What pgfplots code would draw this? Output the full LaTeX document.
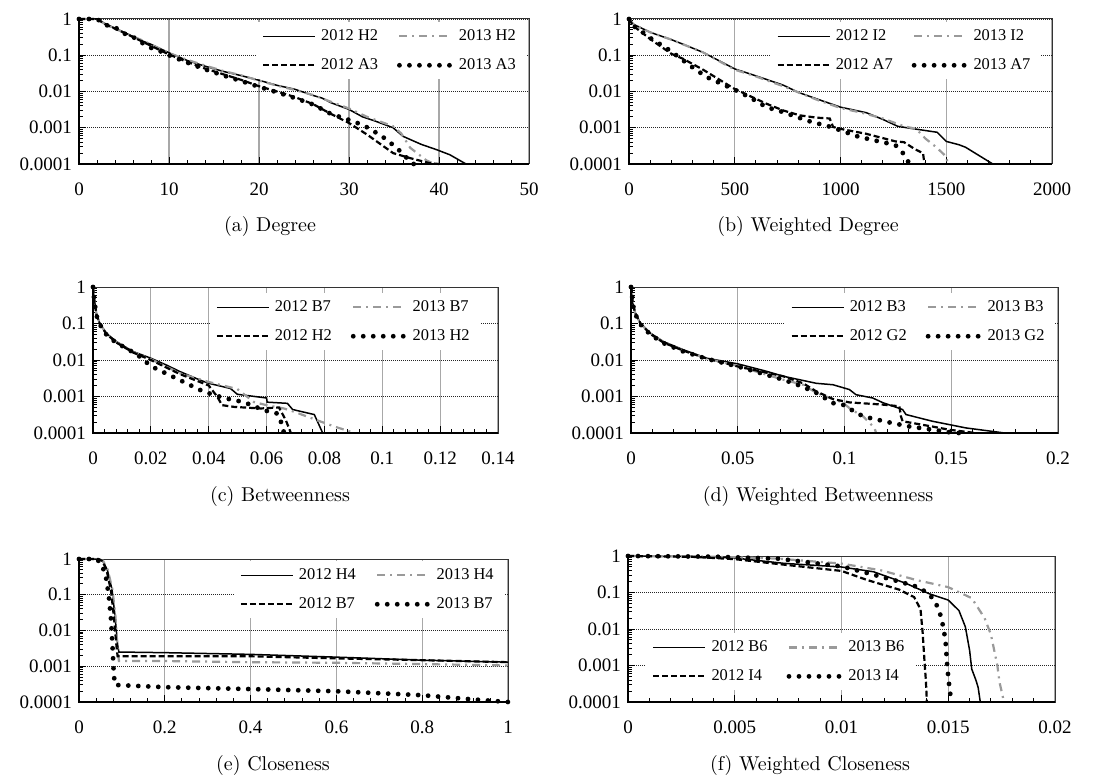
\documentclass[border=0pt]{standalone}
\usepackage{fontspec}
\newfontfamily\tnr{Liberation Serif}
\usepackage{pgfplots}
\pgfplotsset{compat=1.18}
\definecolor{dashgray}{HTML}{9A9A9A}
\definecolor{gridgray}{HTML}{A8A8A8}

% line styles: 2012 first code, 2013 first code, 2012 second code, 2013 second code
\tikzset{
  sA/.style={black, line width=0.75pt},
  sB/.style={dashgray, line width=1.1pt, dash pattern=on 4pt off 2.5pt on 1pt off 2.5pt},
  sC/.style={black, line width=1.1pt, dash pattern=on 3pt off 1.5pt},
  sD/.style={black, line width=2.4pt, line cap=round, dash pattern=on 0pt off 5pt},
}

% settings shared by all six panels
\pgfplotsset{
  scale only axis,
  ymin=1e-4, ymax=1,
  ytick={1e-4,1e-3,1e-2,1e-1,1},
  yticklabels={0.0001,0.001,0.01,0.1,1},
  scaled x ticks=false,
  tick pos=left, tick align=inside,
  minor x tick num=4,
  major tick length=3.5pt, minor tick length=1.8pt,
  tick style={black, line width=0.5pt},
  xmajorgrids, ymajorgrids,
  x grid style={gridgray, line width=0.6pt},
  y grid style={black!85, line width=0.4pt, dash pattern=on 0.5pt off 0.5pt},
  axis line style={black!80, line width=0.5pt},
  clip=false,
  ticklabel style={font=\tnr\fontsize{9.5}{11}\selectfont},
  xticklabel style={yshift=-5.7pt},
  yticklabel style={xshift=0pt},
  legend columns=2,
  legend cell align=left,
  legend image code/.code={\draw[#1] (0pt,0pt) -- (26pt,0pt);},
  legend style={draw=none, fill=white, font=\tnr\fontsize{8.2}{9.5}\selectfont,
    inner xsep=3pt, inner ysep=2pt, row sep=4.5pt, nodes={inner xsep=2.5pt, inner ysep=1.5pt},
    /tikz/every even column/.append style={column sep=7pt}},
}

\newcommand{\frameLB}{\draw[black, line width=1pt] (rel axis cs:0,1) -- (rel axis cs:0,0) -- (rel axis cs:1,0);}

\begin{document}
\begin{tikzpicture}
\useasboundingbox (0,0) rectangle (550.5pt,-390pt);

% (a) Degree
\begin{semilogyaxis}[anchor=north west, at={(39.5pt,-9.5pt)}, width=225pt, height=72.5pt,
  xmin=0, xmax=50, xtick={0,10,20,30,40,50}, xticklabels={0,10,20,30,40,50},
  legend style={at={(0.996,0.979)}, anchor=north east}]
\addplot[sA] coordinates {(0,1)(2,1)(3,0.72)(5,0.43)(7,0.25)(8,0.2)(10,0.117)(12,0.072)(14,0.05)(16,0.036)(18,0.0275)(20,0.0204)(22,0.0148)(24,0.0115)(26,0.0078)(27,0.0066)(28,0.0049)(30,0.0032)(31.5,0.002)(33,0.0015)(34.9,0.001)(36,0.00058)(38,0.00035)(39.7,0.00025)(41.2,0.00018)(43,0.0001)};
\addplot[sB] coordinates {(0,1)(2,1)(3,0.7)(5,0.42)(7,0.26)(10,0.115)(12,0.075)(14,0.052)(16,0.037)(18,0.028)(20,0.02)(22,0.0145)(24,0.011)(26,0.008)(28,0.0052)(30,0.0034)(32,0.002)(34.9,0.0011)(35.8,0.0007)(36.8,0.00028)(38.6,0.000126)(39.5,0.0001)};
\addplot[sC] coordinates {(0,1)(2,1)(3,0.7)(5,0.42)(7,0.24)(10,0.105)(12,0.066)(14,0.043)(16,0.03)(18,0.021)(20,0.014)(22,0.01)(24,0.007)(26,0.0045)(28,0.0024)(30,0.00135)(32,0.00065)(34.9,0.0002)(36.8,0.000145)(39,0.000105)(40,0.0001)};
\addplot[sD] coordinates {(0,1)(2,1)(3,0.68)(4,0.59)(5,0.4)(6,0.32)(7,0.22)(8,0.16)(9,0.13)(10,0.1)(12,0.063)(14,0.041)(16,0.028)(18,0.0195)(20,0.0135)(22,0.0095)(24,0.0066)(26,0.0044)(28,0.0024)(30.5,0.0015)(31.8,0.0011)(33.6,0.0006)(35.3,0.00028)(37,0.000105)(37.2,0.0001)};
\legend{2012 H2, 2013 H2, 2012 A3, 2013 A3}
\frameLB
\end{semilogyaxis}

% (b) Weighted Degree
\begin{semilogyaxis}[anchor=north west, at={(314.5pt,-9.5pt)}, width=211.5pt, height=72.5pt,
  xmin=0, xmax=2000, xtick={0,500,1000,1500,2000}, xticklabels={0,500,1000,1500,2000},
  legend style={at={(0.976,0.979)}, anchor=north east}]
\addplot[sA] coordinates {(0,1)(20,0.72)(100,0.43)(200,0.27)(257,0.2)(350,0.12)(500,0.042)(600,0.027)(729,0.015)(800,0.0095)(886,0.0063)(1000,0.0037)(1122,0.0026)(1200,0.0017)(1270,0.0011)(1323,0.00098)(1457,0.00075)(1500,0.00042)(1560,0.00034)(1591,0.00029)(1720,0.0001)};
\addplot[sB] coordinates {(0,1)(20,0.72)(100,0.43)(200,0.27)(350,0.12)(500,0.04)(600,0.026)(729,0.014)(800,0.0095)(886,0.006)(1000,0.0035)(1100,0.0026)(1200,0.0018)(1300,0.0011)(1358,0.00093)(1402,0.0005)(1450,0.0003)(1500,0.00016)(1507,0.0001)};
\addplot[sC] coordinates {(0,1)(20,0.65)(100,0.28)(200,0.11)(257,0.079)(350,0.04)(500,0.0117)(650,0.0046)(729,0.003)(807,0.0022)(886,0.0019)(949,0.0018)(965,0.00105)(1000,0.00093)(1122,0.00068)(1260,0.00042)(1300,0.0004)(1355,0.00025)(1390,0.0002)(1397,0.0001)};
\addplot[sD] coordinates {(0,1)(20,0.65)(60,0.45)(100,0.3)(194,0.135)(288,0.052)(367,0.025)(500,0.0112)(571,0.0069)(650,0.0037)(729,0.0027)(791,0.002)(870,0.0014)(933,0.00115)(1000,0.00085)(1075,0.00059)(1138,0.00048)(1216,0.00038)(1260,0.00033)(1295,0.0002)(1327,0.0001)};
\legend{2012 I2, 2013 I2, 2012 A7, 2013 A7}
\frameLB
\end{semilogyaxis}

% (c) Betweenness
\begin{semilogyaxis}[anchor=north west, at={(46.5pt,-143.5pt)}, width=202.5pt, height=73pt,
  xmin=0, xmax=0.14, xtick={0,0.02,0.04,0.06,0.08,0.1,0.12,0.14},
  xticklabels={0,0.02,0.04,0.06,0.08,0.1,0.12,0.14},
  legend style={at={(0.958,0.959)}, anchor=north east}]
\addplot[sA] coordinates {(0,1)(0.00035,0.55)(0.00116,0.19)(0.0023,0.102)(0.0046,0.054)(0.0081,0.032)(0.0139,0.017)(0.02,0.0112)(0.0255,0.0072)(0.0301,0.0048)(0.0371,0.0028)(0.04,0.0023)(0.0475,0.00166)(0.0499,0.00115)(0.06,0.00091)(0.0602,0.0007)(0.0672,0.00065)(0.069,0.00044)(0.0765,0.00032)(0.0794,0.0001)};
\addplot[sB] coordinates {(0,1)(0.00035,0.55)(0.00116,0.19)(0.0023,0.1)(0.0046,0.053)(0.0081,0.031)(0.0139,0.0165)(0.02,0.0105)(0.0301,0.0043)(0.04,0.0025)(0.0499,0.0016)(0.0557,0.0007)(0.06,0.00058)(0.066,0.00047)(0.0696,0.00038)(0.0777,0.00022)(0.0835,0.00015)(0.0904,0.0001)};
\addplot[sC] coordinates {(0,1)(0.00035,0.5)(0.00116,0.18)(0.0023,0.1)(0.0046,0.052)(0.0081,0.03)(0.0139,0.016)(0.02,0.01)(0.0301,0.0041)(0.04,0.002)(0.0429,0.001)(0.0446,0.00058)(0.0487,0.00052)(0.058,0.00047)(0.0643,0.0005)(0.0667,0.00022)(0.0684,0.0001)};
\addplot[sD] coordinates {(0,1)(0.00035,0.5)(0.00116,0.17)(0.0023,0.095)(0.0046,0.05)(0.0081,0.029)(0.0116,0.021)(0.0162,0.0123)(0.02,0.0068)(0.0301,0.0028)(0.0371,0.0015)(0.0417,0.0011)(0.0464,0.00087)(0.0522,0.0007)(0.0591,0.00042)(0.0638,0.00034)(0.0655,0.00016)(0.066,0.0001)};
\legend{2012 B7, 2013 B7, 2012 H2, 2013 H2}
\frameLB
\end{semilogyaxis}

% (d) Weighted Betweenness
\begin{semilogyaxis}[anchor=north west, at={(315.5pt,-143.5pt)}, width=213.5pt, height=73pt,
  xmin=0, xmax=0.2, xtick={0,0.05,0.1,0.15,0.2}, xticklabels={0,0.05,0.1,0.15,0.2},
  legend style={at={(0.995,0.959)}, anchor=north east}]
\addplot[sA] coordinates {(0,1)(0.0003,0.85)(0.0008,0.36)(0.002,0.195)(0.0044,0.102)(0.009,0.055)(0.0152,0.032)(0.0246,0.019)(0.0355,0.0112)(0.0502,0.0078)(0.0635,0.0049)(0.0712,0.0036)(0.0868,0.0023)(0.0946,0.0021)(0.1023,0.00155)(0.1054,0.00112)(0.1132,0.00091)(0.1179,0.00068)(0.1272,0.00044)(0.1288,0.00032)(0.1412,0.00021)(0.1568,0.000138)(0.175,0.0001)};
\addplot[sB] coordinates {(0,1)(0.0003,0.85)(0.0008,0.36)(0.002,0.19)(0.0044,0.1)(0.009,0.053)(0.0152,0.031)(0.0246,0.018)(0.0355,0.011)(0.0502,0.0068)(0.0712,0.0029)(0.0806,0.0021)(0.0868,0.00126)(0.0992,0.00068)(0.1031,0.00044)(0.1086,0.00029)(0.114,0.000138)(0.1148,0.0001)};
\addplot[sC] coordinates {(0,1)(0.0003,0.85)(0.0008,0.36)(0.002,0.19)(0.0044,0.1)(0.009,0.052)(0.0152,0.03)(0.0246,0.018)(0.0355,0.011)(0.0502,0.0066)(0.0712,0.0036)(0.0806,0.0023)(0.0868,0.00138)(0.0946,0.00085)(0.1023,0.00069)(0.1179,0.0006)(0.1257,0.00054)(0.1264,0.00029)(0.1272,0.00021)(0.1412,0.00015)(0.149,0.000123)(0.1614,0.0001)};
\addplot[sD] coordinates {(0,1)(0.0003,0.8)(0.0008,0.34)(0.002,0.18)(0.0044,0.095)(0.009,0.05)(0.0152,0.029)(0.0246,0.017)(0.0355,0.0108)(0.0502,0.0066)(0.0712,0.0029)(0.079,0.002)(0.0868,0.00126)(0.0946,0.00066)(0.0992,0.0006)(0.107,0.00032)(0.1117,0.00026)(0.121,0.000195)(0.1303,0.000151)(0.1412,0.000123)(0.149,0.000105)(0.1537,0.0001)};
\legend{2012 B3, 2013 B3, 2012 G2, 2013 G2}
\frameLB
\end{semilogyaxis}

% (e) Closeness
\begin{semilogyaxis}[anchor=north west, at={(39.5pt,-279.5pt)}, width=214.5pt, height=71.5pt,
  xmin=0, xmax=1, xtick={0,0.2,0.4,0.6,0.8,1}, xticklabels={0,0.2,0.4,0.6,0.8,1},
  legend style={at={(0.993,0.986)}, anchor=north east}]
\addplot[sA] coordinates {(0,1)(0.045,1)(0.055,0.9)(0.066,0.5)(0.077,0.14)(0.084,0.025)(0.09,0.004)(0.093,0.0025)(0.2,0.0024)(0.4,0.00215)(0.6,0.0018)(0.8,0.00148)(1,0.0013)};
\addplot[sB] coordinates {(0,1)(0.045,1)(0.056,0.9)(0.067,0.5)(0.078,0.14)(0.085,0.025)(0.09,0.003)(0.093,0.0014)(0.2,0.0014)(0.4,0.0013)(0.6,0.00125)(0.8,0.00115)(1,0.00105)};
\addplot[sC] coordinates {(0,1)(0.045,1)(0.055,0.88)(0.065,0.45)(0.075,0.12)(0.082,0.02)(0.088,0.003)(0.09,0.0019)(0.4,0.0019)(0.6,0.00166)(0.8,0.00148)(1,0.0013)};
\addplot[sD] coordinates {(0,1)(0.04,1)(0.051,0.78)(0.062,0.36)(0.0696,0.09)(0.0747,0.02)(0.079,0.0023)(0.081,0.0006)(0.084,0.0003)(0.2,0.00026)(0.4,0.00023)(0.6,0.0002)(0.8,0.000155)(0.9,0.000123)(1,0.0001)};
\legend{2012 H4, 2013 H4, 2012 B7, 2013 B7}
\frameLB
\end{semilogyaxis}

% (f) Weighted Closeness
\begin{semilogyaxis}[anchor=north west, at={(314pt,-278pt)}, width=213.5pt, height=73pt,
  xmin=0, xmax=0.02, xtick={0,0.005,0.01,0.015,0.02}, xticklabels={0,0.005,0.01,0.015,0.02},
  legend style={at={(0.042,0.472)}, anchor=north west}]
\addplot[sA] coordinates {(0,1)(0.003,0.97)(0.005,0.88)(0.0073,0.63)(0.01,0.5)(0.0115,0.37)(0.013,0.18)(0.0141,0.093)(0.015,0.062)(0.0155,0.032)(0.0158,0.0115)(0.016,0.0026)(0.0161,0.0008)(0.0163,0.00039)(0.0164,0.00025)(0.0165,0.0001)};
\addplot[sB] coordinates {(0,1)(0.004,0.96)(0.007,0.85)(0.01,0.62)(0.0119,0.4)(0.0135,0.22)(0.015,0.14)(0.0161,0.07)(0.0167,0.02)(0.017,0.007)(0.0173,0.001)(0.0174,0.00035)(0.01755,0.000145)(0.0176,0.0001)};
\addplot[sC] coordinates {(0,1)(0.003,0.95)(0.005,0.82)(0.0073,0.58)(0.01,0.39)(0.0112,0.22)(0.0127,0.12)(0.0134,0.075)(0.0137,0.035)(0.0138,0.008)(0.0139,0.001)(0.01395,0.0004)(0.014,0.0001)};
\addplot[sD] coordinates {(0,1)(0.004,0.96)(0.007,0.85)(0.01,0.52)(0.0113,0.33)(0.0127,0.2)(0.0136,0.14)(0.0141,0.09)(0.0144,0.055)(0.01466,0.022)(0.0148,0.009)(0.01488,0.004)(0.01495,0.001)(0.015,0.0005)(0.01508,0.00018)(0.0152,0.0001)};
\legend{2012 B6, 2013 B6, 2012 I4, 2013 I4}
\frameLB
\end{semilogyaxis}

% sub-captions
\begin{scope}[every node/.style={font=\fontsize{10}{12}\selectfont, anchor=center}]
\node at (135pt,-113.5pt) {(a) Degree};
\node at (404pt,-113.5pt) {(b) Weighted Degree};
\node at (140pt,-248pt) {(c) Betweenness};
\node at (409pt,-248pt) {(d) Weighted Betweenness};
\node at (136.5pt,-382.5pt) {(e) Closeness};
\node at (405pt,-382.5pt) {(f) Weighted Closeness};
\end{scope}
\end{tikzpicture}
\end{document}
